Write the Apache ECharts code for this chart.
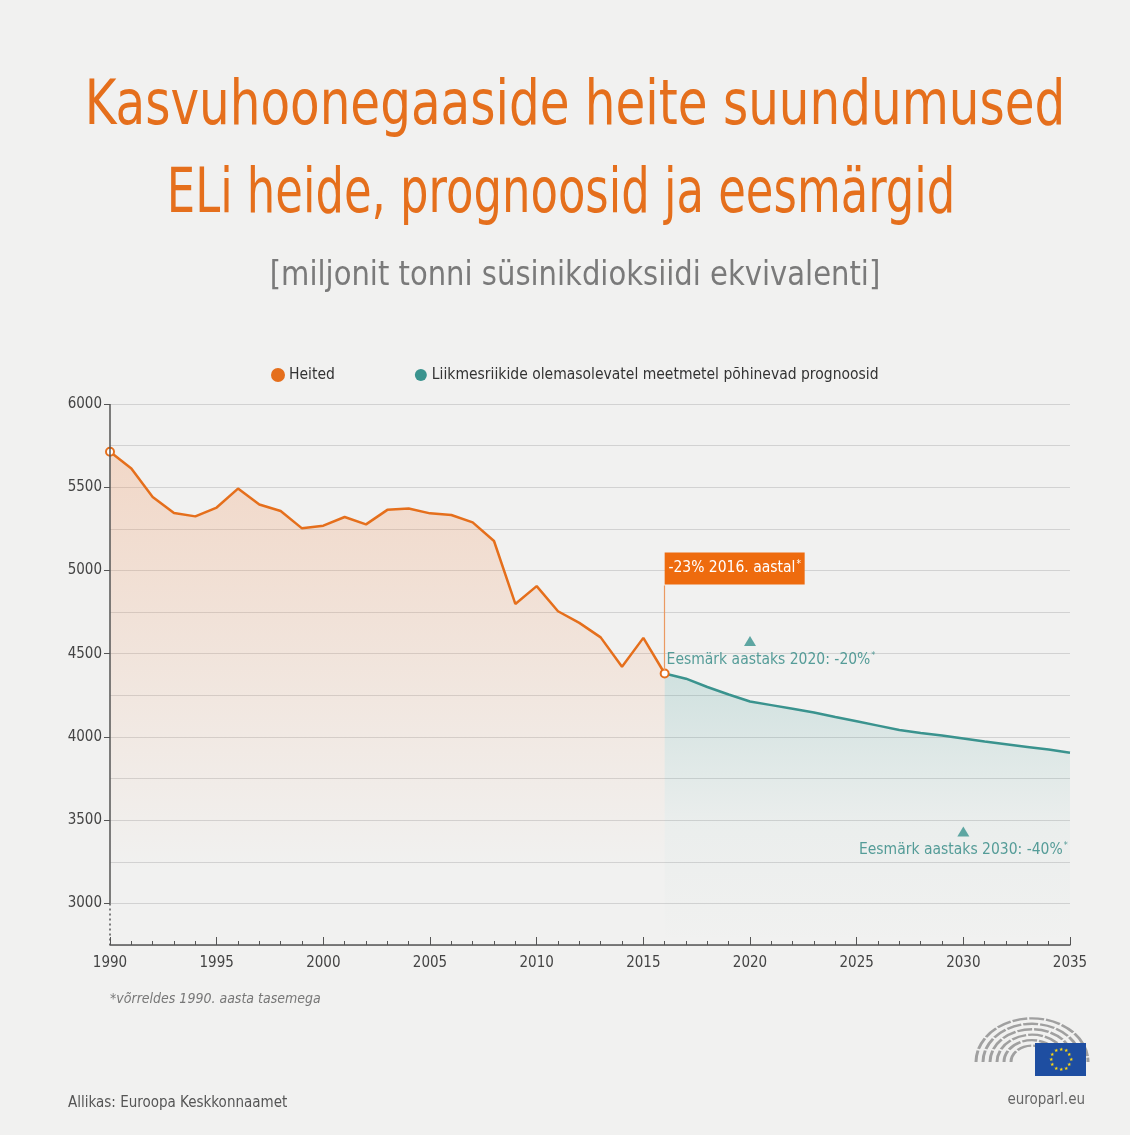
<!DOCTYPE html>
<html lang="et">
<head>
<meta charset="UTF-8">
<title>Kasvuhoonegaaside heite suundumused</title>
<script src="https://cdn.jsdelivr.net/npm/echarts@6/dist/echarts.min.js"></script>
<style>
  html, body { margin: 0; padding: 0; }
</style>
</head>
<body>
<div id="main" style="width:1130px;height:1135px"></div>
<script>
// aastad ja heide (mln t CO2-ekv)
var heiteAastad = [1990, 1991, 1992, 1993, 1994, 1995, 1996, 1997, 1998, 1999,
                   2000, 2001, 2002, 2003, 2004, 2005, 2006, 2007, 2008, 2009,
                   2010, 2011, 2012, 2013, 2014, 2015, 2016];
var heide = [5713, 5613, 5442, 5345, 5325, 5378, 5492, 5396, 5357, 5253,
             5269, 5321, 5277, 5364, 5372, 5343, 5333, 5289, 5177, 4799,
             4906, 4755, 4685, 4598, 4422, 4595, 4381];

// prognoos
var prognoosiAastad = [2016, 2017, 2018, 2019, 2020, 2021, 2022, 2023, 2024, 2025,
                       2026, 2027, 2028, 2029, 2030, 2031, 2032, 2033, 2034, 2035];
var prognoos = [4381, 4350, 4300, 4255, 4213, 4191, 4169, 4147, 4120, 4094,
                4068, 4042, 4024, 4008, 3990, 3972, 3956, 3940, 3924, 3905];

// eesmärgid
var eesmargiAastad = [2020, 2030];
var eesmargid = [4576, 3432];
var eesmargiTekstid = ['Eesmärk aastaks 2020: -20%', 'Eesmärk aastaks 2030: -40%'];

var yTicks = [3000, 3500, 4000, 4500, 5000, 5500, 6000];

var ORANGE = '#e56f1c';
var TEAL = '#3a938e';
var TEAL_TEXT = '#2e8782';
var FONT = '"Liberation Sans Narrow", "DejaVu Sans Condensed", "Open Sans", sans-serif';

var chartDom = document.getElementById('main');
var myChart = echarts.init(chartDom);
var option;

var heiteData = heiteAastad.map(function (a, i) {
    var item = { value: [a, heide[i]] };
    // tühjad ringid ainult algus- ja lõpp-punktis
    if (i === 0 || i === heiteAastad.length - 1) {
        item.symbol = 'emptyCircle';
    }
    return item;
});
var prognoosiData = prognoosiAastad.map(function (a, i) { return [a, prognoos[i]]; });
var eesmargiData = eesmargiAastad.map(function (a, i) {
    return {
        value: [a, eesmargid[i]],
        label: { offset: i === 0 ? [21, 0] : [0, 0] },
        name: eesmargiTekstid[i]
    };
});

// europarl logo: poolring + lipp
var logo = [];
[56, 49, 42, 35, 28, 21].forEach(function (r) {
    logo.push({
        type: 'arc',
        shape: { cx: 0, cy: 0, r: r, startAngle: Math.PI * 1.0, endAngle: Math.PI * 2.0 },
        x: 1032, y: 1062,
        scaleY: 0.78,
        style: { stroke: '#a0a0a0', lineWidth: 3, fill: null, lineDash: [15, 2] }
    });
});
logo.push({ type: 'rect', shape: { x: 1035, y: 1043, width: 51, height: 33 }, style: { fill: '#1e4ea1' } });
for (var s = 0; s < 12; s++) {
    var ang = s * Math.PI / 6;
    logo.push({
        type: 'text',
        style: {
            text: '★', x: 1060.5 + Math.cos(ang) * 10, y: 1059.5 + Math.sin(ang) * 10,
            fill: '#ffd90f', fontSize: 5, align: 'center', verticalAlign: 'middle'
        }
    });
}

// pealkirjad (kitsendatud, nagu originaalis)
function titleText(text, x, y, size, color, sx) {
    return {
        type: 'text', x: x, y: y, scaleX: sx,
        style: { text: text, fontSize: size, fill: color, fontFamily: FONT, align: 'center', verticalAlign: 'middle' }
    };
}

option = {
    backgroundColor: '#f1f1f0',
    textStyle: { fontFamily: FONT },
    legend: {
        data: ['Heited', 'Liikmesriikide olemasolevatel meetmetel põhinevad prognoosid'],
        left: 266, top: 362,
        itemGap: 80,
        icon: 'circle',
        itemWidth: 12, itemHeight: 12,
        textStyle: { fontSize: 15.5, color: '#333', fontFamily: FONT }
    },
    grid: { left: 110, right: 60, top: 404, bottom: 190, containLabel: false },
    xAxis: {
        type: 'value',
        min: 1990, max: 2035, interval: 5,
        axisLine: { lineStyle: { color: '#555', width: 1.5 } },
        axisTick: { inside: true, length: 8, lineStyle: { color: '#555' } },
        minorTick: { show: true, splitNumber: 5, length: 4, lineStyle: { color: '#555' } },
        splitLine: { show: false },
        axisLabel: {
            formatter: function (v) { return String(v); },
            fontSize: 15, color: '#444', margin: 11, fontFamily: FONT
        }
    },
    yAxis: [
        {
            type: 'value',
            min: 2750, max: 6000, interval: 250,
            axisLine: { show: false },
            axisTick: { show: true, length: 6, customValues: yTicks, lineStyle: { color: '#555' } },
            axisLabel: {
                customValues: yTicks,
                formatter: function (v) { return String(v); },
                fontSize: 15, color: '#444', margin: 8, fontFamily: FONT
            },
            splitLine: { show: false }
        },
        {
            type: 'value',
            position: 'right',
            min: 2750, max: 6000, interval: 250,
            axisLine: { show: false },
            axisTick: { show: false },
            axisLabel: { show: false },
            splitLine: { show: true, lineStyle: { color: '#d2d2d2', width: 1 } }
        }
    ],
    graphic: [
        titleText('Kasvuhoonegaaside heite suundumused', 575, 108, 62, ORANGE, 0.868),
        titleText('ELi heide, prognoosid ja eesmärgid', 561, 196, 62, ORANGE, 0.805),
        titleText('[miljonit tonni süsinikdioksiidi ekvivalenti]', 575, 276, 34, '#7a7a7a', 0.95),
        {
            type: 'text', left: 110, top: 992,
            style: { text: '*võrreldes 1990. aasta tasemega', fill: '#777', fontSize: 14, fontStyle: 'italic', fontFamily: FONT }
        },
        {
            type: 'text', left: 68, top: 1096,
            style: { text: 'Allikas: Euroopa Keskkonnaamet', fill: '#555', fontSize: 15, fontFamily: FONT }
        },
        {
            type: 'text', right: 45, top: 1093,
            style: { text: 'europarl.eu', fill: '#666', fontSize: 15, fontFamily: FONT }
        },
        { type: 'group', children: logo }
    ],
    series: [
        {
            name: 'Liikmesriikide olemasolevatel meetmetel põhinevad prognoosid',
            type: 'line',
            data: prognoosiData,
            showSymbol: false,
            color: TEAL,
            lineStyle: { color: TEAL, width: 2.5 },
            areaStyle: {
                color: new echarts.graphic.LinearGradient(0, 0, 0, 1, [
                    { offset: 0, color: 'rgba(58,152,147,0.26)' },
                    { offset: 0.55, color: 'rgba(58,152,147,0.05)' },
                    { offset: 1, color: 'rgba(58,152,147,0)' }
                ])
            },
            z: 2
        },
        {
            name: 'Heited',
            type: 'line',
            data: heiteData,
            symbol: 'none',
            showSymbol: true,
            symbolSize: 8,
            color: ORANGE,
            itemStyle: { color: ORANGE, borderColor: ORANGE, borderWidth: 2 },
            lineStyle: { color: ORANGE, width: 2.5 },
            areaStyle: {
                color: new echarts.graphic.LinearGradient(0, 0, 0, 1, [
                    { offset: 0, color: 'rgba(242,140,80,0.36)' },
                    { offset: 0.55, color: 'rgba(242,140,80,0.12)' },
                    { offset: 0.85, color: 'rgba(242,140,80,0)' }
                ])
            },
            z: 3,
            markLine: {
                silent: true,
                symbol: ['none', 'none'],
                label: { show: false },
                animation: false,
                data: [
                    [{ coord: [1990, 6000], lineStyle: { color: '#555', width: 1.5, type: 'solid' } }, { coord: [1990, 3000] }],
                    [{ coord: [1990, 3000], lineStyle: { color: '#555', width: 1.5, type: [2, 3] } }, { coord: [1990, 2750] }],
                    [{ coord: [2016, 4910], lineStyle: { color: '#eb9a62', width: 1.2, type: 'solid' } }, { coord: [2016, 4400] }]
                ]
            },
            markPoint: {
                silent: true,
                animation: false,
                data: [
                    {
                        coord: [2016, 5012],
                        symbol: 'rect',
                        symbolSize: [140, 32],
                        symbolOffset: [70, 0],
                        itemStyle: { color: '#ee6b0e' },
                        label: {
                            show: true,
                            position: 'inside',
                            formatter: '{a|-23% 2016. aastal}{s|*}',
                            rich: {
                                a: { color: '#fff', fontSize: 15.5, fontFamily: FONT },
                                s: { color: '#fff', fontSize: 10, fontFamily: FONT, verticalAlign: 'top', padding: [0, 0, 8, 1] }
                            }
                        }
                    }
                ]
            }
        },
        {
            name: 'Eesmärgid',
            type: 'scatter',
            data: eesmargiData,
            symbol: 'triangle',
            symbolSize: [12, 10],
            itemStyle: { color: TEAL },
            z: 4,
            label: {
                show: true,
                position: 'bottom',
                distance: 5,
                formatter: function (p) { return '{a|' + p.name + '}{s|*}'; },
                rich: {
                    a: { color: TEAL_TEXT, fontSize: 15.5, fontFamily: FONT },
                    s: { color: TEAL_TEXT, fontSize: 9, fontFamily: FONT, verticalAlign: 'top', padding: [0, 0, 8, 1] }
                }
            }
        }
    ]
};

option && myChart.setOption(option);
</script>
</body>
</html>
